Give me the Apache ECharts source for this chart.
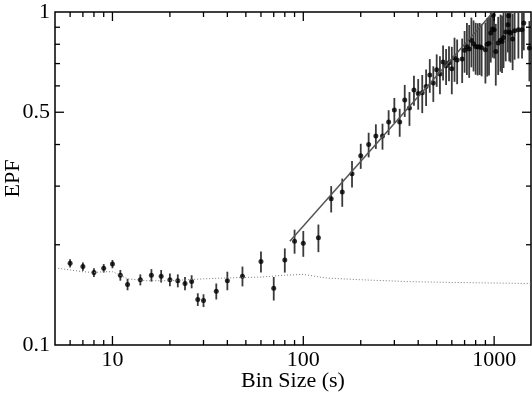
<!doctype html>
<html lang="en">
<head>
<meta charset="UTF-8">
<title>EPF vs Bin Size</title>
<script src="https://cdn.jsdelivr.net/npm/echarts@6/dist/echarts.min.js"></script>
<style>
    html, body { margin: 0; padding: 0; background: #fff; }
    #main { width: 532px; height: 398px; }
</style>
</head>
<body>
<div id="main"></div>
<script>
    // measured points (bin size in s, EPF, 1 sigma error)
    var binSize = [6, 7, 8, 9, 10, 11, 12, 14, 16, 18, 20, 22, 24, 26, 28, 30, 35, 40, 48, 60, 70,
        80, 90, 100, 120, 140, 160, 180, 200, 220, 240, 260, 280, 300, 320, 340, 360, 380, 400,
        420, 440, 460, 480, 500, 520, 540, 560, 580, 600, 620, 640, 680, 700, 720, 740, 760, 780,
        800, 820, 840, 860, 900, 920, 940, 960, 980, 990, 1000, 1020, 1050, 1080, 1100, 1120, 1150,
        1180, 1190, 1200, 1220, 1250, 1280, 1340, 1400, 1430, 1530];
    var epf = [0.176, 0.172, 0.165, 0.170, 0.175, 0.162, 0.152, 0.157, 0.162, 0.161, 0.157, 0.156,
        0.153, 0.155, 0.137, 0.136, 0.145, 0.156, 0.161, 0.178, 0.148,
        0.180, 0.205, 0.202, 0.210, 0.275, 0.288, 0.327, 0.370, 0.400, 0.424, 0.424, 0.467, 0.508,
        0.467, 0.544, 0.515, 0.583, 0.569, 0.572, 0.597, 0.647, 0.612, 0.671, 0.651, 0.708, 0.689,
        0.704, 0.676, 0.727, 0.717, 0.722, 0.767, 0.787, 0.774, 0.822, 0.803, 0.788, 0.785, 0.787,
        0.781, 0.770, 0.800, 0.805, 0.865, 0.889, 0.980, 0.885, 0.761, 0.807, 0.822, 0.816, 0.839, 0.871,
        0.916, 0.975, 0.871, 0.865, 0.829, 0.879, 0.885, 0.885, 0.927, 0.779];
    var epfErr = [0.005, 0.005, 0.005, 0.005, 0.005, 0.006, 0.006, 0.006, 0.007, 0.007, 0.007, 0.007,
        0.007, 0.007, 0.006, 0.006, 0.008, 0.010, 0.011, 0.013, 0.012,
        0.015, 0.017, 0.018, 0.020, 0.025, 0.028, 0.030, 0.032, 0.034, 0.036, 0.038, 0.040, 0.044,
        0.045, 0.060, 0.060, 0.060, 0.060, 0.075, 0.075, 0.075, 0.075, 0.075, 0.085, 0.085, 0.085,
        0.085, 0.11, 0.11, 0.11, 0.11, 0.11, 0.14, 0.14, 0.14, 0.14, 0.14, 0.14, 0.14,
        0.14, 0.16, 0.16, 0.16, 0.16, 0.16, 0.16, 0.16, 0.16, 0.16, 0.16, 0.16, 0.16, 0.16,
        0.16, 0.16, 0.16, 0.16, 0.16, 0.16, 0.16, 0.16, 0.16, 0.16];

    // power-law fit (solid) and model curve (dotted)
    var fitX = [85, 990];
    var fitY = [0.205, 1.0];
    var modelX = [5.2, 6, 7, 8, 9, 10, 11, 12, 15, 20, 30, 40, 60, 80, 100, 130, 200, 360, 660, 1560];
    var modelY = [0.170, 0.168, 0.166, 0.165, 0.166, 0.166, 0.162, 0.158, 0.156, 0.156, 0.158,
        0.159, 0.160, 0.162, 0.163, 0.159, 0.157, 0.155, 0.154, 0.153];

    // ticks
    var xMajor = [10, 100, 1000];
    var xMinor = [6, 7, 8, 9, 20, 30, 40, 50, 60, 70, 80, 90, 200, 300, 400, 500, 600, 700, 800, 900];
    var yMajor = [0.5];
    var yMinor = [0.2, 0.3, 0.4, 0.6, 0.7, 0.8, 0.9];

    var serif = '"Liberation Serif", "Times New Roman", serif';

    var points = binSize.map(function (b, i) { return [b, epf[i]]; });
    var bars = binSize.map(function (b, i) { return [b, epf[i] - epfErr[i], epf[i] + epfErr[i]]; });
    var fit = fitX.map(function (v, i) { return [v, fitY[i]]; });
    var model = modelX.map(function (v, i) { return [v, modelY[i]]; });

    var ticks = [];
    xMajor.forEach(function (v) { ticks.push([v, 0.5, 0, 1]); });
    xMinor.forEach(function (v) { ticks.push([v, 0.5, 0, 0]); });
    yMajor.forEach(function (v) { ticks.push([10, v, 1, 1]); });
    yMinor.forEach(function (v) { ticks.push([10, v, 1, 0]); });

    function renderBar(params, api) {
        var lo = api.coord([api.value(0), api.value(1)]);
        var hi = api.coord([api.value(0), api.value(2)]);
        return {
            type: 'line',
            shape: {x1: lo[0], y1: lo[1], x2: hi[0], y2: hi[1]},
            style: {stroke: '#3a3a3a', lineWidth: 1.8}
        };
    }

    function renderTick(params, api) {
        var cs = params.coordSys;
        var len = api.value(3) ? 9 : 5;
        var p = api.coord([api.value(0), api.value(1)]);
        var st = {stroke: '#000', lineWidth: 1.3};
        if (api.value(2) === 0) {
            var b = cs.y + cs.height;
            return {
                type: 'group', children: [
                    {type: 'line', shape: {x1: p[0], y1: b, x2: p[0], y2: b - len}, style: st},
                    {type: 'line', shape: {x1: p[0], y1: cs.y, x2: p[0], y2: cs.y + len}, style: st}
                ]
            };
        }
        var r = cs.x + cs.width;
        var kids = [
            {type: 'line', shape: {x1: cs.x, y1: p[1], x2: cs.x + len, y2: p[1]}, style: st},
            {type: 'line', shape: {x1: r, y1: p[1], x2: r - len, y2: p[1]}, style: st}
        ];
        if (api.value(3)) {
            kids.push({
                type: 'text',
                style: {
                    text: String(api.value(1)), x: cs.x - 5, y: p[1],
                    align: 'right', verticalAlign: 'middle',
                    font: '22px ' + serif, fill: '#000'
                }
            });
        }
        return {type: 'group', children: kids};
    }

    var myChart = echarts.init(document.getElementById('main'));
    var option = {
        animation: false,
        grid: {
            left: 55, top: 12, right: 1, bottom: 53,
            outerBoundsMode: 'none',
            show: true, borderColor: '#000', borderWidth: 1.5
        },
        xAxis: {
            type: 'log', logBase: 10, min: 5, max: 1560,
            name: 'Bin Size (s)', nameLocation: 'middle', nameGap: 25, nameMoveOverlap: false,
            nameTextStyle: {fontFamily: serif, fontSize: 22, color: '#000'},
            axisLine: {show: false}, axisTick: {show: false}, splitLine: {show: false},
            axisLabel: {
                fontFamily: serif, fontSize: 22, color: '#000', margin: 4,
                showMinLabel: false, showMaxLabel: false,
                formatter: function (v) { return String(Math.round(v)); }
            }
        },
        yAxis: {
            type: 'log', logBase: 10, min: 0.1, max: 1,
            name: 'EPF', nameLocation: 'middle', nameGap: 31, nameRotate: 90, nameMoveOverlap: false,
            nameTextStyle: {fontFamily: serif, fontSize: 22, color: '#000'},
            axisLine: {show: false}, axisTick: {show: false}, splitLine: {show: false},
            axisLabel: {fontFamily: serif, fontSize: 22, color: '#000', margin: 5}
        },
        series: [
            {
                type: 'line', data: model, showSymbol: false, silent: true,
                lineStyle: {color: '#777', width: 1, type: [1, 2]}
            },
            {
                type: 'line', data: fit, showSymbol: false, silent: true,
                lineStyle: {color: '#555', width: 1.5}
            },
            {
                type: 'custom', data: bars, renderItem: renderBar, clip: true,
                encode: {x: 0, y: [1, 2]}, silent: true
            },
            {
                type: 'scatter', data: points, symbolSize: 5, clip: true,
                itemStyle: {color: '#000'}, silent: true
            },
            {
                type: 'custom', data: ticks, renderItem: renderTick, silent: true,
                dimensions: ['x', 'y', 'axis', 'major'], encode: {x: 'x', y: 'y'}
            }
        ]
    };
    myChart.setOption(option);
</script>
</body>
</html>
